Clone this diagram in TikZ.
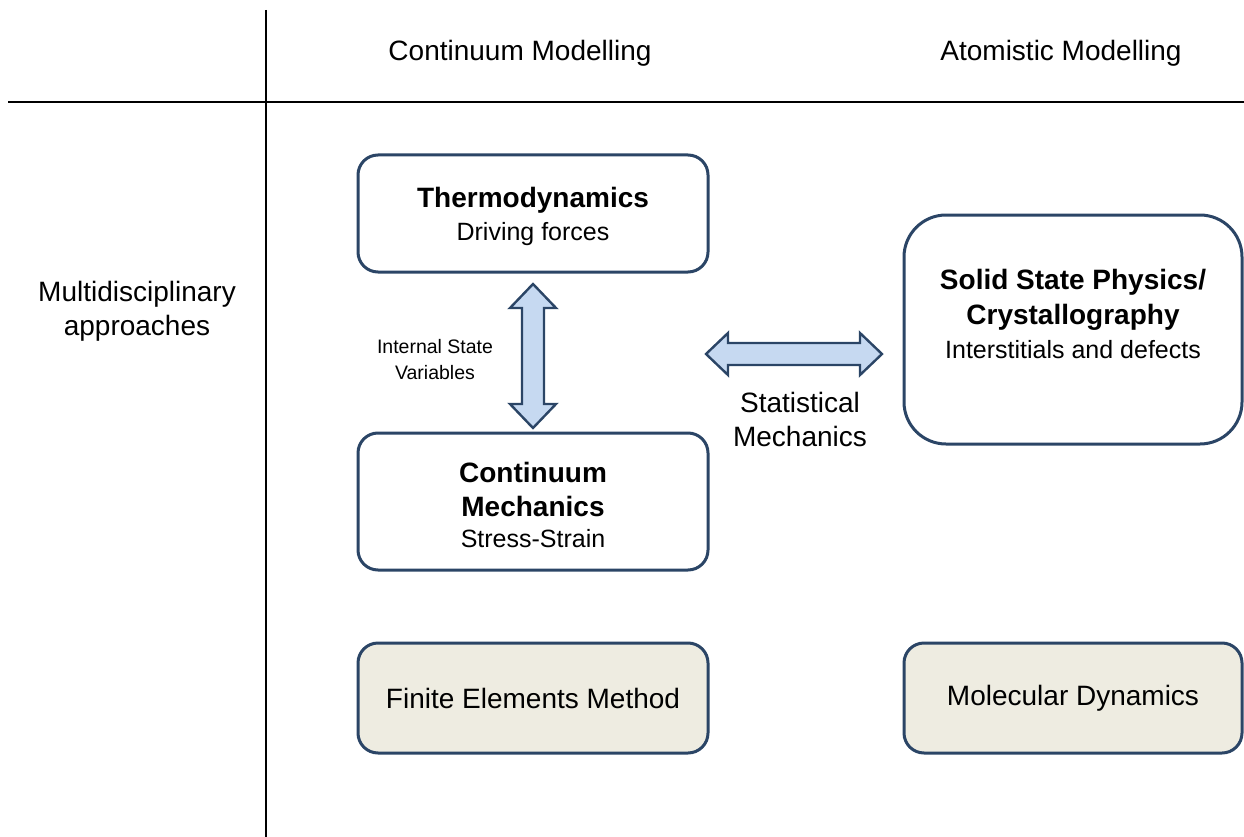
\documentclass[tikz,border=0pt]{standalone}
\usepackage{fontspec}
\setmainfont{Liberation Sans}
\definecolor{boxline}{HTML}{2B4566}
\definecolor{arrowfill}{HTML}{C6D9F1}
\definecolor{methodfill}{HTML}{EEECE1}
\begin{document}
\begin{tikzpicture}[x=1pt,y=-1pt,
  box/.style={draw=boxline,line width=3pt,rounded corners=20pt,fill=white,align=center,inner sep=0pt},
  methodbox/.style={box,fill=methodfill},
  bigtxt/.style={font=\fontsize{28}{34}\selectfont},
  boldtxt/.style={font=\fontsize{28}{34}\selectfont\bfseries,align=center},
  subtxt/.style={font=\fontsize{25}{32}\selectfont},
  smalltxt/.style={font=\fontsize{19.5}{26}\selectfont,align=center},
  blockarrow/.style={draw=boxline,line width=2.4pt,fill=arrowfill,line join=miter}]
\useasboundingbox (0,0) rectangle (1244,837);
% grid lines
\coordinate (vtop) at (266,10);
\coordinate (vbot) at (266,837);
\coordinate (hl) at (8,102);
\coordinate (hr) at (1244,102);
\draw[line width=2pt] (vtop) -- (vbot);
\draw[line width=2pt] (hl) -- (hr);
% headers
\node[bigtxt] (hcont) at (520,53) {Continuum Modelling};
\node[bigtxt] (hatom) at (1061,53) {Atomistic Modelling};
\node[bigtxt,align=center] (multi) at (137,311) {Multidisciplinary\\approaches};
% boxes
\node[box,minimum width=350,minimum height=117] (thermo) at (533,213.5) {};
\node[boldtxt] (thermoT) at (533,200) {Thermodynamics};
\node[subtxt] (thermoS) at (533,234) {Driving forces};

\node[box,minimum width=350,minimum height=137] (cont) at (533,501.5) {};
\node[boldtxt] (contT) at (533,489) {Continuum\\Mechanics};
\node[subtxt] (contS) at (533,539) {Stress-Strain};

\node[box,rounded corners=42pt,minimum width=338,minimum height=229] (solid) at (1073,329.5) {};
\node[boldtxt,font=\fontsize{28}{35}\selectfont\bfseries] (solidT) at (1073,300) {Solid State Physics/\\Crystallography};
\node[subtxt] (solidS) at (1073,350) {Interstitials and defects};

\node[methodbox,minimum width=350,minimum height=110,bigtxt] (fem) at (533,698) {Finite Elements Method};
\node[methodbox,minimum width=338,minimum height=110,bigtxt] (md) at (1073,698) {Molecular Dynamics};

% arrow labels
\node[smalltxt] (isv) at (435,360) {Internal State\\Variables};
\node[bigtxt,align=center] (stat) at (800,419) {Statistical\\Mechanics};

% vertical double block arrow
\draw[blockarrow] (533,284) -- (556,308) -- (544,308) -- (544,404) -- (556,404) -- (533,428)
  -- (510,404) -- (522,404) -- (522,308) -- (510,308) -- cycle;
% horizontal double block arrow
\draw[blockarrow] (706,354) -- (728,333) -- (728,343) -- (860,343) -- (860,333) -- (882,354)
  -- (860,375) -- (860,365) -- (728,365) -- (728,375) -- cycle;
\end{tikzpicture}
\end{document}
